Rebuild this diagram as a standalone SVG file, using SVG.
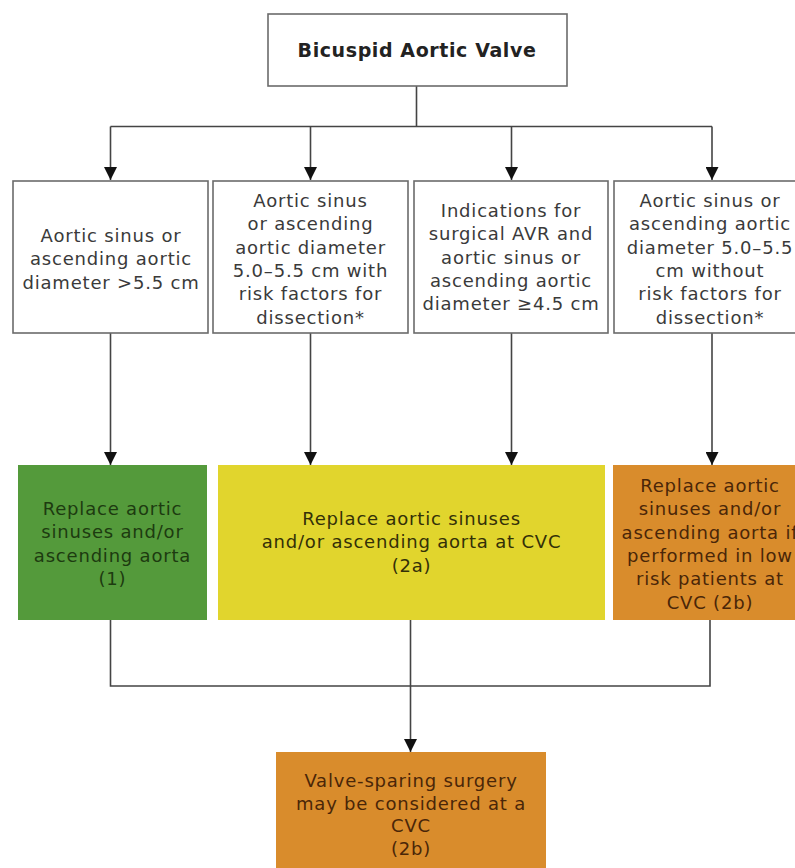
<svg xmlns="http://www.w3.org/2000/svg" width="795" height="868" viewBox="0 0 795 868">
<style>
.bx{fill:#fff;stroke:#6b6b6b;stroke-width:1.6}
.t{font-family:"DejaVu Sans",sans-serif;font-size:18px;letter-spacing:0.8px;text-anchor:middle;fill:#3a3a3a}
.tb{font-family:"DejaVu Sans",sans-serif;font-size:19px;letter-spacing:0.6px;font-weight:bold;text-anchor:middle;fill:#222}
.ln{fill:none;stroke:#444;stroke-width:1.6}
.g{fill:#1d3b10}
.y{fill:#333008}
.o{fill:#4a2608}
</style>
<defs>
<marker id="ah" markerWidth="13" markerHeight="13" refX="13" refY="6.5" orient="auto" markerUnits="userSpaceOnUse">
<path d="M0,0 L13,6.5 L0,13 Z" fill="#111"/>
</marker>
</defs>
<rect width="795" height="868" fill="#fff"/>
<g id="connectors">
<path class="ln" d="M416.5,86 V126.5 M110.5,126.5 H712"/>
<path class="ln" d="M110.5,126.5 V180" marker-end="url(#ah)"/>
<path class="ln" d="M310.5,126.5 V180" marker-end="url(#ah)"/>
<path class="ln" d="M511.5,126.5 V180" marker-end="url(#ah)"/>
<path class="ln" d="M712,126.5 V180" marker-end="url(#ah)"/>
<path class="ln" d="M110.5,333 V465" marker-end="url(#ah)"/>
<path class="ln" d="M310.5,333 V465" marker-end="url(#ah)"/>
<path class="ln" d="M511.5,333 V465" marker-end="url(#ah)"/>
<path class="ln" d="M712,333 V465" marker-end="url(#ah)"/>
<path class="ln" d="M110.5,620 V686 H710 V620"/>
<path class="ln" d="M410.5,620 V752" marker-end="url(#ah)"/>
</g>
<g id="top">
<rect class="bx" x="268" y="14" width="299" height="72"/>
<text class="tb" x="417" y="57">Bicuspid Aortic Valve</text>
</g>
<g id="c1">
<rect class="bx" x="13" y="181" width="195" height="152"/>
<text class="t" x="111" y="242">Aortic sinus or</text>
<text class="t" x="111" y="265.3">ascending aortic</text>
<text class="t" x="111" y="288.6">diameter &gt;5.5 cm</text>
</g>
<g id="c2">
<rect class="bx" x="213" y="181" width="195" height="152"/>
<text class="t" x="310.5" y="207">Aortic sinus</text>
<text class="t" x="310.5" y="230.3">or ascending</text>
<text class="t" x="310.5" y="253.6">aortic diameter</text>
<text class="t" x="310.5" y="276.9">5.0–5.5 cm with</text>
<text class="t" x="310.5" y="300.2">risk factors for</text>
<text class="t" x="310.5" y="323.5">dissection*</text>
</g>
<g id="c3">
<rect class="bx" x="414" y="181" width="194" height="152"/>
<text class="t" x="511" y="217">Indications for</text>
<text class="t" x="511" y="240.3">surgical AVR and</text>
<text class="t" x="511" y="263.6">aortic sinus or</text>
<text class="t" x="511" y="286.9">ascending aortic</text>
<text class="t" x="511" y="310.2">diameter ≥4.5 cm</text>
</g>
<g id="c4">
<rect class="bx" x="614" y="181" width="196" height="152"/>
<text class="t" x="710" y="207">Aortic sinus or</text>
<text class="t" x="710" y="230.3">ascending aortic</text>
<text class="t" x="710" y="253.6">diameter 5.0–5.5</text>
<text class="t" x="710" y="276.9">cm without</text>
<text class="t" x="710" y="300.2">risk factors for</text>
<text class="t" x="710" y="323.5">dissection*</text>
</g>
<g id="r1">
<rect x="18" y="465" width="189" height="155" fill="#549a3b"/>
<text class="t g" x="112.5" y="515">Replace aortic</text>
<text class="t g" x="112.5" y="538.3">sinuses and/or</text>
<text class="t g" x="112.5" y="561.6">ascending aorta</text>
<text class="t g" x="112.5" y="584.9">(1)</text>
</g>
<g id="r2">
<rect x="218" y="465" width="387" height="155" fill="#e1d52d"/>
<text class="t y" x="411.5" y="525">Replace aortic sinuses</text>
<text class="t y" x="411.5" y="548.3">and/or ascending aorta at CVC</text>
<text class="t y" x="411.5" y="571.6">(2a)</text>
</g>
<g id="r3">
<rect x="613" y="465" width="197" height="155" fill="#d98c2c"/>
<text class="t o" x="710" y="492">Replace aortic</text>
<text class="t o" x="710" y="515.3">sinuses and/or</text>
<text class="t o" x="710" y="538.6">ascending aorta if</text>
<text class="t o" x="710" y="561.9">performed in low</text>
<text class="t o" x="710" y="585.2">risk patients at</text>
<text class="t o" x="710" y="608.5">CVC (2b)</text>
</g>
<g id="bottom">
<rect x="276" y="752" width="270" height="130" fill="#d98c2c"/>
<text class="t o" x="411" y="787">Valve-sparing surgery</text>
<text class="t o" x="411" y="809.7">may be considered at a</text>
<text class="t o" x="411" y="832.4">CVC</text>
<text class="t o" x="411" y="855.1">(2b)</text>
</g>
</svg>
